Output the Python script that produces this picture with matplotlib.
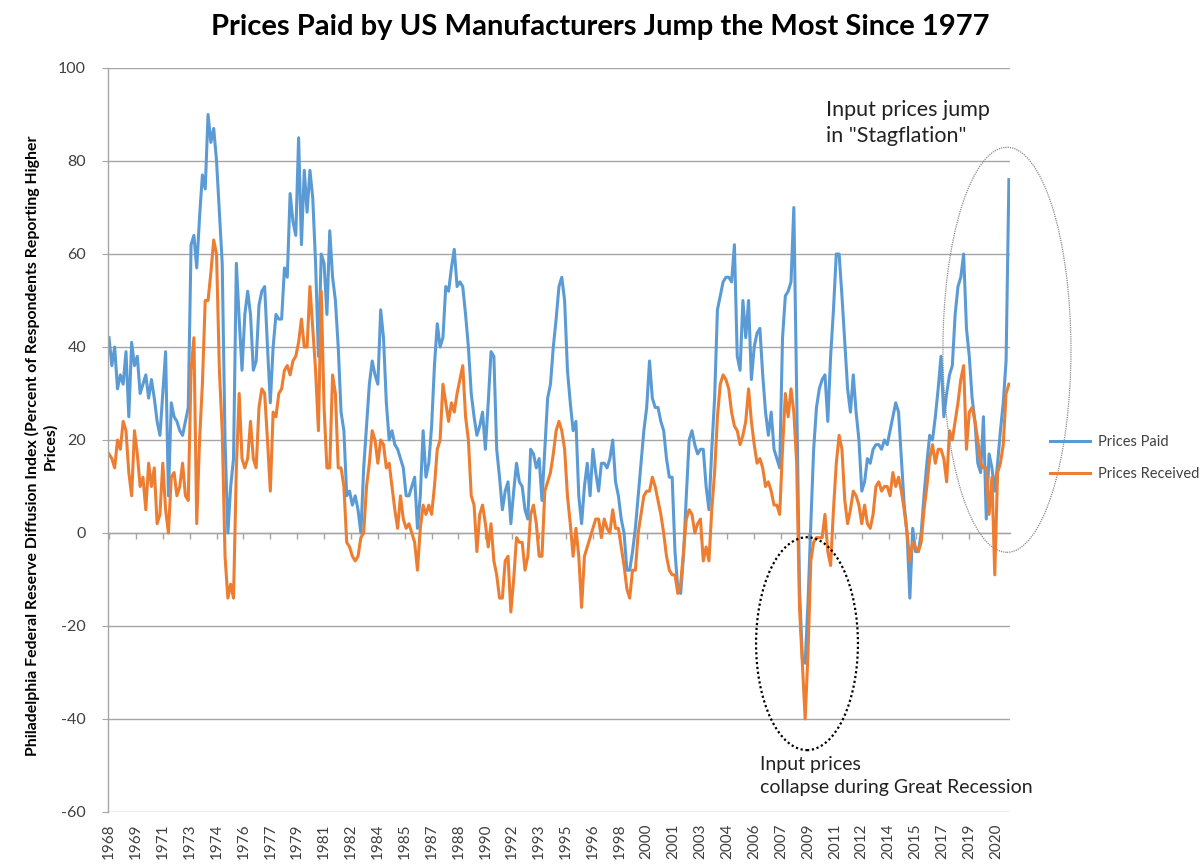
import numpy as np
import matplotlib
matplotlib.use("Agg")
import matplotlib.pyplot as plt
from matplotlib.patches import Ellipse

plt.rcParams['font.family'] = ['Lato', 'DejaVu Sans']
plt.rcParams['axes.unicode_minus'] = False

# ---------------- data (bi-monthly readings, starting May 1968) ----------------
step_months = 2

paid_1968_1979 = [42, 36, 40, 31,
                  34, 32, 39, 25, 41, 36,
                  38, 30, 32, 34, 29, 33,
                  29, 24, 21, 30, 39, 8,
                  28, 25, 24, 22, 21, 24,
                  27, 62, 64, 57, 68, 77,
                  74, 90, 84, 87, 80, 69,
                  58, 20, 0, 10, 16, 58,
                  46, 35, 47, 52, 47, 35,
                  37, 49, 52, 53, 40, 28,
                  40, 47, 46, 46, 57, 55,
                  73, 67, 64, 85, 62, 78]
paid_1980_1991 = [69, 78, 72, 58, 38, 60,
                  58, 47, 65, 55, 50, 40,
                  26, 22, 8, 9, 6, 8,
                  5, 0, 14, 23, 32, 37,
                  34, 32, 48, 42, 28, 20,
                  22, 19, 18, 16, 14, 8,
                  8, 10, 12, 1, 8, 22,
                  12, 15, 23, 36, 45, 40,
                  42, 53, 52, 57, 61, 53,
                  54, 53, 47, 40, 30, 25,
                  21, 23, 26, 18, 28, 39,
                  38, 18, 12, 5, 9, 11]
paid_1992_2003 = [2, 9, 15, 11, 10, 5,
                  3, 18, 17, 14, 16, 7,
                  18, 29, 32, 40, 46, 53,
                  55, 50, 35, 28, 22, 24,
                  8, 2, 10, 15, 8, 18,
                  13, 9, 15, 15, 14, 16,
                  20, 11, 8, 3, 0, -8,
                  -8, -4, 1, 8, 15, 22,
                  27, 37, 29, 27, 27, 24,
                  22, 16, 12, 12, -4, -12,
                  -13, -5, 8, 20, 22, 19,
                  17, 18, 18, 10, 5, 18]
paid_2004_2021 = [29, 48, 51, 54, 55, 55,
                  54, 62, 38, 35, 50, 42,
                  50, 33, 40, 43, 44, 34,
                  26, 21, 26, 18, 16, 14,
                  42, 51, 52, 54, 70, 30,
                  -12, -27, -28, -15, 2, 18,
                  27, 31, 33, 34, 24, 38,
                  48, 60, 60, 51, 41, 31,
                  26, 34, 26, 20, 9, 11,
                  16, 15, 18, 19, 19, 18,
                  20, 19, 22, 25, 28, 26,
                  16, 6, 0, -14, 1, -4,
                  -4, 0, 8, 15, 21, 20,
                  25, 31, 38, 25, 30, 34,
                  36, 47, 53, 55, 60, 44,
                  38, 29, 24, 15, 13, 25,
                  3, 17, 14, 9, 15, 22,
                  28, 37, 76]

received_1968_1979 = [17, 16, 14, 20,
                      18, 24, 22, 13, 8, 22,
                      17, 10, 12, 5, 15, 10,
                      14, 2, 4, 15, 5, 0,
                      12, 13, 8, 10, 15, 8,
                      7, 35, 42, 2, 20, 32,
                      50, 50, 56, 63, 60, 35,
                      22, -5, -14, -11, -14, 14,
                      30, 16, 14, 16, 24, 16,
                      14, 27, 31, 30, 20, 9,
                      26, 25, 30, 31, 35, 36,
                      34, 37, 38, 41, 46, 40]
received_1980_1991 = [40, 53, 44, 35, 22, 52,
                      27, 14, 14, 34, 30, 14,
                      14, 10, -2, -3, -5, -6,
                      -5, -1, 0, 10, 15, 22,
                      20, 15, 20, 19, 14, 15,
                      10, 5, 1, 8, 3, 1,
                      2, 0, -2, -8, 1, 6,
                      4, 6, 4, 10, 18, 20,
                      32, 28, 24, 28, 26, 30,
                      33, 36, 25, 20, 8, 6,
                      -4, 4, 6, 2, -3, 2,
                      -6, -9, -14, -14, -6, -5]
received_1992_2003 = [-17, -10, -1, -2, -2, -8,
                      -5, 4, 6, 2, -5, -5,
                      9, 11, 13, 17, 22, 24,
                      22, 18, 8, 2, -5, 1,
                      -5, -16, -5, -3, -1, 1,
                      3, 3, -1, 3, 1, 0,
                      5, 1, 1, -3, -7, -12,
                      -14, -8, -8, 0, 4, 8,
                      9, 9, 12, 10, 7, 4,
                      0, -5, -8, -9, -9, -13,
                      -11, -4, 3, 5, 4, 0,
                      2, 3, -6, -3, -6, 5]
received_2004_2021 = [13, 25, 32, 34, 33, 31,
                      26, 23, 22, 19, 21, 24,
                      31, 24, 19, 15, 16, 14,
                      10, 11, 9, 6, 6, 4,
                      18, 30, 25, 31, 26, 15,
                      -16, -28, -40, -26, -6, -2,
                      -1, -1, -1, 4, -4, -7,
                      5, 15, 21, 18, 7, 2,
                      5, 9, 8, 6, 2, 6,
                      2, 1, 4, 10, 11, 9,
                      10, 10, 8, 13, 10, 12,
                      9, 5, 0, -6, -2, -3,
                      -4, -2, 5, 10, 16, 19,
                      15, 18, 18, 16, 11, 22,
                      20, 24, 28, 33, 36, 18,
                      26, 27, 24, 20, 15, 14,
                      14, 4, 12, -9, 13, 15,
                      19, 30, 32]

# category-axis labels (one every 19 months, starting at the first month)
label_interval = 19
year_labels = ["1968", "1969", "1971", "1973", "1974", "1976", "1977", "1979",
               "1981", "1982", "1984", "1985", "1987", "1988", "1990", "1992",
               "1993", "1995", "1996", "1998", "2000", "2001", "2003", "2004",
               "2006", "2007", "2009", "2011", "2012", "2014", "2015", "2017",
               "2019", "2020"]

paid = paid_1968_1979 + paid_1980_1991 + paid_1992_2003 + paid_2004_2021
received = received_1968_1979 + received_1980_1991 + received_1992_2003 + received_2004_2021
assert len(paid) == len(received) == 319
months = np.arange(len(paid)) * step_months
label_pos = np.arange(len(year_labels)) * label_interval

# ---------------- figure ----------------
BLUE = '#5B9BD5'
ORANGE = '#ED7D31'
GRID = '#A6A6A6'
TXT = '#404040'

fig = plt.figure(figsize=(12, 8.68), dpi=100)
ax = fig.add_axes([0.09025, 0.06452, 0.7511, 0.85714])

ax.plot(months, paid, color=BLUE, lw=2.2, label='Prices Paid', solid_joinstyle='round')
ax.plot(months, received, color=ORANGE, lw=2.2, label='Prices Received', solid_joinstyle='round')

ymin, ymax = -60, 100
ax.set_ylim(ymin, ymax)
ax.set_xlim(-0.5, months[-1] + 0.5)
ax.set_yticks(np.arange(ymin, ymax + 1, 20))
ax.yaxis.grid(True, color=GRID, lw=1.0)
ax.set_axisbelow(True)
ax.tick_params(axis='y', length=4, color=GRID, labelsize=11.5, labelcolor=TXT, pad=12)

for s in ['top', 'right', 'bottom']:
    ax.spines[s].set_visible(False)
ax.spines['left'].set_color(GRID)
ax.spines['left'].set_linewidth(1.0)

ax.set_xticks(label_pos)
ax.set_xticklabels(year_labels, rotation=90, fontsize=11, color=TXT)
ax.tick_params(axis='x', length=0, pad=8)

# horizontal axis line crossing at zero with its tick marks
zero_frac = (0 - ymin) / (ymax - ymin)
sec = ax.secondary_xaxis(zero_frac)
sec.set_xticks(label_pos)
sec.set_xticklabels([])
sec.tick_params(axis='x', direction='out', length=4, color=GRID, width=1)
sec.spines['bottom'].set_color(GRID)
sec.spines['bottom'].set_linewidth(1.0)

# title
fig.text(0.5, 0.969, 'Prices Paid by US Manufacturers Jump the Most Since 1977',
         ha='center', va='center', fontsize=21, fontweight='bold', color='black')

# y label (two centered lines)
fig.text(41 / 1200, 1 - 446 / 868,
         'Philadelphia Federal Reserve Diffusion Index (Percent of Respondents Reporting Higher\nPrices)',
         rotation=90, ha='center', va='center', multialignment='center',
         fontsize=11.4, fontweight='bold', color='black', linespacing=1.2)

# annotations
fig.text(826 / 1200, 1 - 100 / 868, 'Input prices jump\nin "Stagflation"',
         ha='left', va='top', fontsize=15.5, color='#222222', linespacing=1.38)
fig.text(760 / 1200, 1 - 756 / 868, 'Input prices\ncollapse during Great Recession',
         ha='left', va='top', fontsize=14, color='#222222', linespacing=1.45)

# ellipses (data coordinates: month index / index value)
rec_center, rec_w, rec_h = (493.3, -23.8), 72, 45.8
stag_center, stag_w, stag_h = (634.6, 39.4), 90.5, 87.1
ax.add_patch(Ellipse(rec_center, rec_w, rec_h, fill=False, edgecolor='black',
                     lw=1.6, linestyle=(0, (1, 1.2)), clip_on=False, zorder=5))
ax.add_patch(Ellipse(stag_center, stag_w, stag_h, fill=False, edgecolor='#8a8a8a',
                     lw=0.9, linestyle=(0, (1, 0.8)), clip_on=False, zorder=5))

# legend
fig.legend(loc='center left', bbox_to_anchor=(1050 / 1200, 1 - 458 / 868),
           frameon=False, fontsize=10.5, handlelength=2.75, handletextpad=0.55,
           labelspacing=1.25, borderpad=0, borderaxespad=0, labelcolor=TXT)

fig.savefig('out.png', dpi=100)
